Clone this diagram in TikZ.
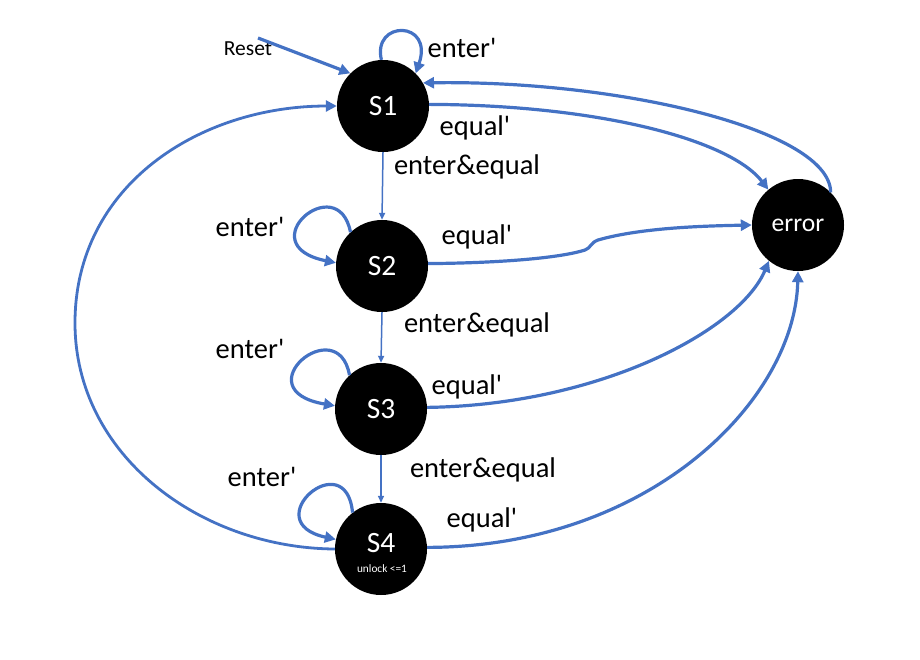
\documentclass[tikz,border=0pt]{standalone}
\usepackage{fontspec}
\setmainfont{Carlito}
\usetikzlibrary{arrows.meta}
\definecolor{edgeblue}{HTML}{4472C4}
\newcommand{\qq}{\textquotesingle}
\begin{document}
\begin{tikzpicture}[x=1pt,y=-1pt,
  state/.style={circle,fill=black,draw=none,minimum size=92pt,inner sep=0pt,text=white},
  edge/.style={draw=edgeblue,line width=3.2pt,-{Triangle[length=11pt,width=11pt]}},
  thinedge/.style={draw=edgeblue,line width=1.5pt,-{Triangle[length=7pt,width=6pt]}},
  lbl/.style={font=\fontsize{28.5}{30}\selectfont,text=black,inner sep=0pt},
  small/.style={font=\fontsize{21.5}{23}\selectfont,text=black,inner sep=0pt}]
\useasboundingbox (0,0) rectangle (920,659);

% states
\node[state,font=\fontsize{29.5}{31}\selectfont] (S1) at (383,106) {S1};
\node[state,font=\fontsize{29.5}{31}\selectfont] (S2) at (382,266) {S2};
\node[state,font=\fontsize{29.5}{31}\selectfont] (S3) at (381,409) {S3};
\node[state] (S4) at (381,549) {};
\node[font=\fontsize{29.5}{31}\selectfont,text=white,inner sep=0pt] (S4t) at (381,543) {S4};
\node[font=\fontsize{11.3}{12}\selectfont,text=white,inner sep=0pt] (S4u) at (382,569) {unlock <=1};
\node[state,font=\fontsize{25.6}{27}\selectfont] (E) at (798,225) {error};

% reset
\node[small] (reset) at (248,49) {Reset};
\coordinate (rs) at (258,38);
\draw[edge] (rs) -- (S1.135);

% self loops
\draw[edge] (S1.92) .. controls (372,20) and (434,20) .. (S1.45);
\draw[edge] (S2.133) .. controls (338,168) and (248,245) .. (S2.176);
\draw[edge] (S3.133) .. controls (338,310) and (242,390) .. (S3.176);
\draw[edge] (S4.128) .. controls (346,443) and (255,522) .. (S4.168);

% vertical transitions
\draw[thinedge] (S1.south) -- (S2.north);
\draw[thinedge] (S2.south) -- (S3.north);
\draw[thinedge] (S3.south) -- (S4.north);

% to error
\draw[edge] (S1.2) .. controls (600,105) and (730,140) .. (E.130);
\draw[edge] (S2.3) .. controls (500,263) and (560,258) .. (585,250)
  .. controls (591,248) and (590,243) .. (598,240)
  .. controls (640,228) and (700,226) .. (E.180);
\draw[edge] (S3.2) .. controls (600,405) and (740,330) .. (E.231);
\draw[edge] (S4.2) .. controls (650,547) and (795,400) .. (E.270);

% error back to S1
\draw[edge] (E.45) .. controls (830,130) and (620,80) .. (S1.30);

% S4 back to S1
\draw[edge,line width=2.8pt] (S4.180) .. controls (200,548) and (75,455) .. (75,323)
  .. controls (75,185) and (200,106) .. (S1.180);

% labels
\node[lbl] (l1) at (462,48) {enter\qq};
\node[lbl] (l2) at (475,128) {equal\qq};
\node[lbl] (l3) at (467,167) {enter\&equal};
\node[lbl] (l4) at (250,227) {enter\qq};
\node[lbl] (l5) at (477,237) {equal\qq};
\node[lbl] (l6) at (477,325) {enter\&equal};
\node[lbl] (l7) at (250,349) {enter\qq};
\node[lbl] (l8) at (467,387) {equal\qq};
\node[lbl] (l9) at (483,470) {enter\&equal};
\node[lbl] (l10) at (262,477) {enter\qq};
\node[lbl] (l11) at (482,520) {equal\qq};
\end{tikzpicture}
\end{document}
